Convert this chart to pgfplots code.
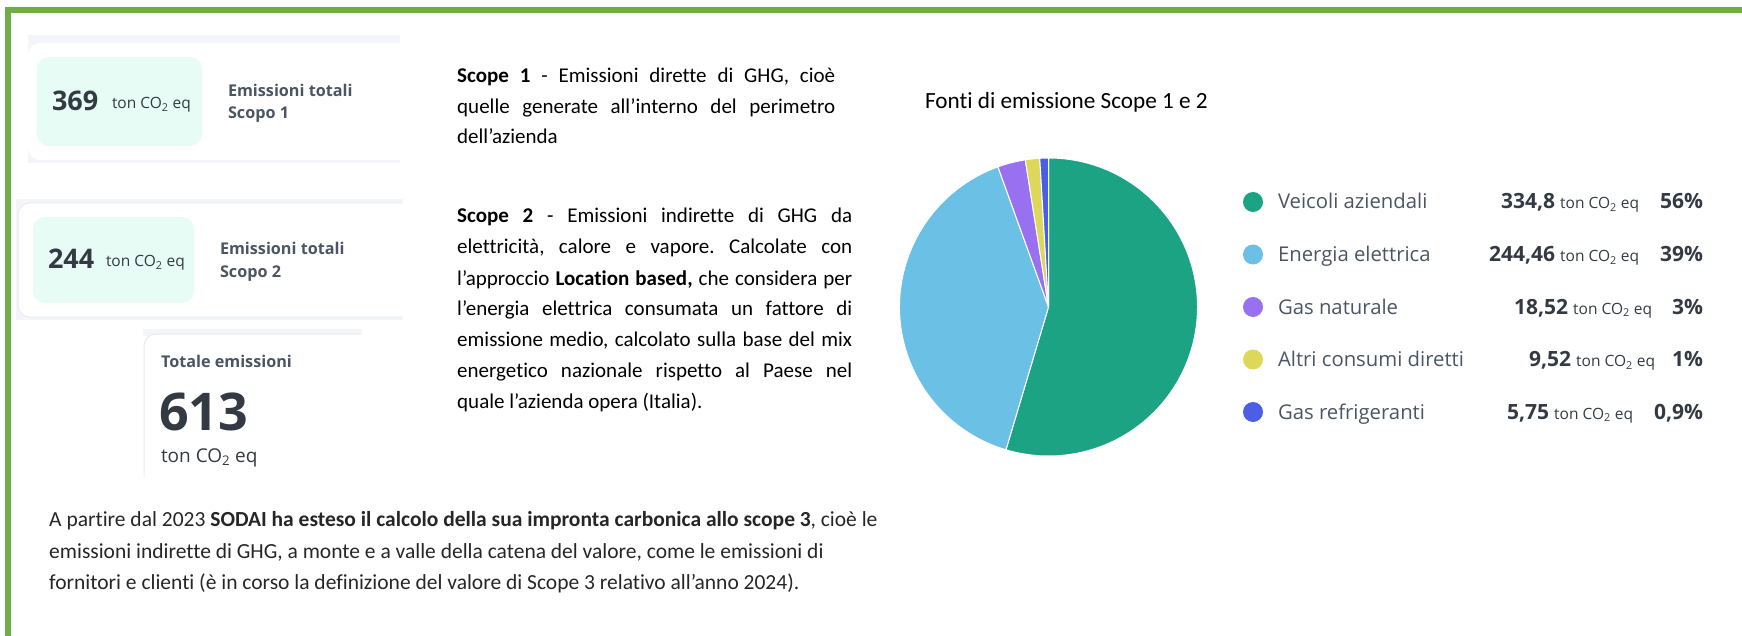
\documentclass[border=0pt]{standalone}
\usepackage{pgfplots}
\pgfplotsset{compat=1.18}
\usepackage{pgfplotstable}
\usepackage{fontspec}
\setmainfont{Carlito}[Ligatures=CommonOff]
\newfontfamily\ui{Open Sans}
\definecolor{bordo}{RGB}{112,173,71}
\definecolor{menta}{RGB}{230,252,245}
\definecolor{ombra}{RGB}{243,245,248}
\definecolor{filo}{RGB}{232,235,240}
\definecolor{scuro}{RGB}{52,58,68}
\definecolor{grigio}{RGB}{75,85,99}
\definecolor{pc0}{RGB}{27,163,132}
\definecolor{pc1}{RGB}{107,192,230}
\definecolor{pc2}{RGB}{153,112,240}
\definecolor{pc3}{RGB}{221,216,90}
\definecolor{pc4}{RGB}{75,95,230}

% fonti di emissione, ton CO2 eq
\pgfplotstableread{
fonte value
Veicoli 334.8
Energia 244.46
Gas 18.52
Altri 9.52
Refrigeranti 5.75
}\fonti

\newcommand{\fs}[1]{\fontsize{#1}{#1}\selectfont}
\newcommand{\tco}{ton CO\textsubscript{2} eq}
\frenchspacing

\begin{document}
\begin{tikzpicture}[x=1pt,y=-1pt,every node/.style={inner sep=0pt,outer sep=0pt}]
\useasboundingbox (0,0) rectangle (1742,636);

% cornice verde (solo sopra e a sinistra)
\fill[bordo] (5,7) rectangle (1742,13);
\fill[bordo] (5,7) rectangle (11,636);

% --- card scopo 1
\begin{scope}
\clip (0,0) rectangle (400,636);
\fill[ombra] (28,35) rectangle (400,163);
\fill[white] (28,43) [rounded corners=12pt] rectangle (420,160);
\fill[menta,rounded corners=12pt] (37,57) rectangle (202,146);
\end{scope}
\node[anchor=base west,scuro,font=\ui\bfseries\fs{27}] at (52,111) {369};
\node[anchor=base west,scuro,font=\ui\fs{15.5}] at (112,109) {\tco};
\node[anchor=base west,grigio,font=\ui\bfseries\fs{16.2}] at (228,97) {Emissioni totali};
\node[anchor=base west,grigio,font=\ui\bfseries\fs{16.2}] at (228,119) {Scopo 1};

% --- card scopo 2
\begin{scope}
\clip (0,0) rectangle (403,636);
\fill[ombra] (16,199) rectangle (403,320);
\filldraw[fill=white,draw=filo,line width=1pt,rounded corners=12pt] (18,203) rectangle (430,317);
\fill[menta,rounded corners=12pt] (33,217) rectangle (194,303);
\end{scope}
\node[anchor=base west,scuro,font=\ui\bfseries\fs{27}] at (48,269) {244};
\node[anchor=base west,scuro,font=\ui\fs{15.5}] at (106,267) {\tco};
\node[anchor=base west,grigio,font=\ui\bfseries\fs{16.2}] at (220,255) {Emissioni totali};
\node[anchor=base west,grigio,font=\ui\bfseries\fs{16.2}] at (220,277) {Scopo 2};

% --- card totale
\begin{scope}
\clip (0,0) rectangle (362,476);
\fill[ombra] (143,329) rectangle (362,336);
\filldraw[fill=white,draw=filo,line width=1pt,rounded corners=12pt] (144,334) rectangle (400,520);
\end{scope}
\node[anchor=base west,grigio,font=\ui\bfseries\fs{16.2}] at (161,367) {Totale emissioni};
\node[anchor=base west,scuro,font=\ui\bfseries\fs{52}] at (159,430) {613};
\node[anchor=base west,scuro,font=\ui\fs{19}] at (161,462) {\tco};

% --- testi Scope 1 e 2 (giustificati)
\begin{scope}[every node/.style={anchor=base west,inner sep=0pt,font=\fs{21}}]
\node at (457,83) {\makebox[378pt][s]{\textbf{Scope 1} - Emissioni dirette di GHG, cioè}};
\node at (457,114) {\makebox[378pt][s]{quelle generate all’interno del perimetro}};
\node at (457,144) {dell’azienda};
\node at (457,223) {\makebox[395pt][s]{\textbf{Scope 2} - Emissioni indirette di GHG da}};
\node at (457,254) {\makebox[395pt][s]{elettricità, calore e vapore. Calcolate con}};
\node at (457,285) {\makebox[395pt][s]{l’approccio \textbf{Location based,} che considera per}};
\node at (457,316) {\makebox[395pt][s]{l’energia elettrica consumata un fattore di}};
\node at (457,346) {\makebox[395pt][s]{emissione medio, calcolato sulla base del mix}};
\node at (457,377) {\makebox[395pt][s]{energetico nazionale rispetto al Paese nel}};
\node at (457,408) {quale l’azienda opera (Italia).};
\end{scope}

% --- testo in basso
\begin{scope}[every node/.style={anchor=base west,inner sep=0pt,font=\fs{21.5},text=black!85}]
\node at (49,526) {A partire dal 2023 \textbf{SODAI ha esteso il calcolo della sua impronta carbonica allo scope 3}, cioè le};
\node at (49,558) {emissioni indirette di GHG, a monte e a valle della catena del valore, come le emissioni di};
\node at (49,589) {fornitori e clienti (è in corso la definizione del valore di Scope 3 relativo all’anno 2024).};
\end{scope}

% --- titolo torta
\node[anchor=base west,font=\fs{23.2}] at (925,109) {Fonti di emissione Scope 1 e 2};

% --- angoli delle fette dai valori
\gdef\tot{0}
\foreach \i in {0,...,4}{%
  \pgfplotstablegetelem{\i}{value}\of\fonti
  \pgfmathsetmacro\t{\tot+\pgfplotsretval}%
  \xdef\tot{\t}}
\gdef\cur{90}
\foreach \i in {0,...,4}{%
  \pgfplotstablegetelem{\i}{value}\of\fonti
  \pgfmathsetmacro\e{\cur-\pgfplotsretval/\tot*360}%
  \expandafter\xdef\csname sa\i\endcsname{\cur}%
  \expandafter\xdef\csname ea\i\endcsname{\e}%
  \xdef\cur{\e}}

\coordinate (centro) at (1048.5,307);
\begin{axis}[at={(centro)},anchor=center,x=149pt,y=149pt,
    xmin=-1,xmax=1,ymin=-1,ymax=1,hide axis,clip=false]
\pgfplotsinvokeforeach{0,...,4}{
  \fill[fill=pc#1,draw=white,line width=1pt]
    (axis cs:0,0) -- (axis cs:{cos(\csname sa#1\endcsname)},{sin(\csname sa#1\endcsname)})
    arc[start angle=\csname sa#1\endcsname,end angle=\csname ea#1\endcsname,radius=149pt] -- cycle;
}
\end{axis}

% --- legenda
\foreach \k/\y/\lab/\val/\xe/\pct in {
    0/209/{Veicoli aziendali}/{334,8}/1639/{56\%},
    1/261.5/{Energia elettrica}/{244,46}/1639/{39\%},
    2/314/{Gas naturale}/{18,52}/1652/{3\%},
    3/366.5/{Altri consumi diretti}/{9,52}/1655/{1\%},
    4/419/{Gas refrigeranti}/{5,75}/1633/{0,9\%}}{
  \fill[pc\k] (1253,\y-7) circle (10pt);
  \node[anchor=base west,grigio,font=\ui\fs{20.3}] at (1278,\y) {\lab};
  \node[anchor=base east,scuro] at (\xe,\y) {{\ui\bfseries\fs{21}\val}\hspace{5pt}{\ui\fs{15.5}\tco}};
  \node[anchor=base east,scuro,font=\ui\bfseries\fs{21}] at (1703,\y) {\pct};
}
\end{tikzpicture}
\end{document}
